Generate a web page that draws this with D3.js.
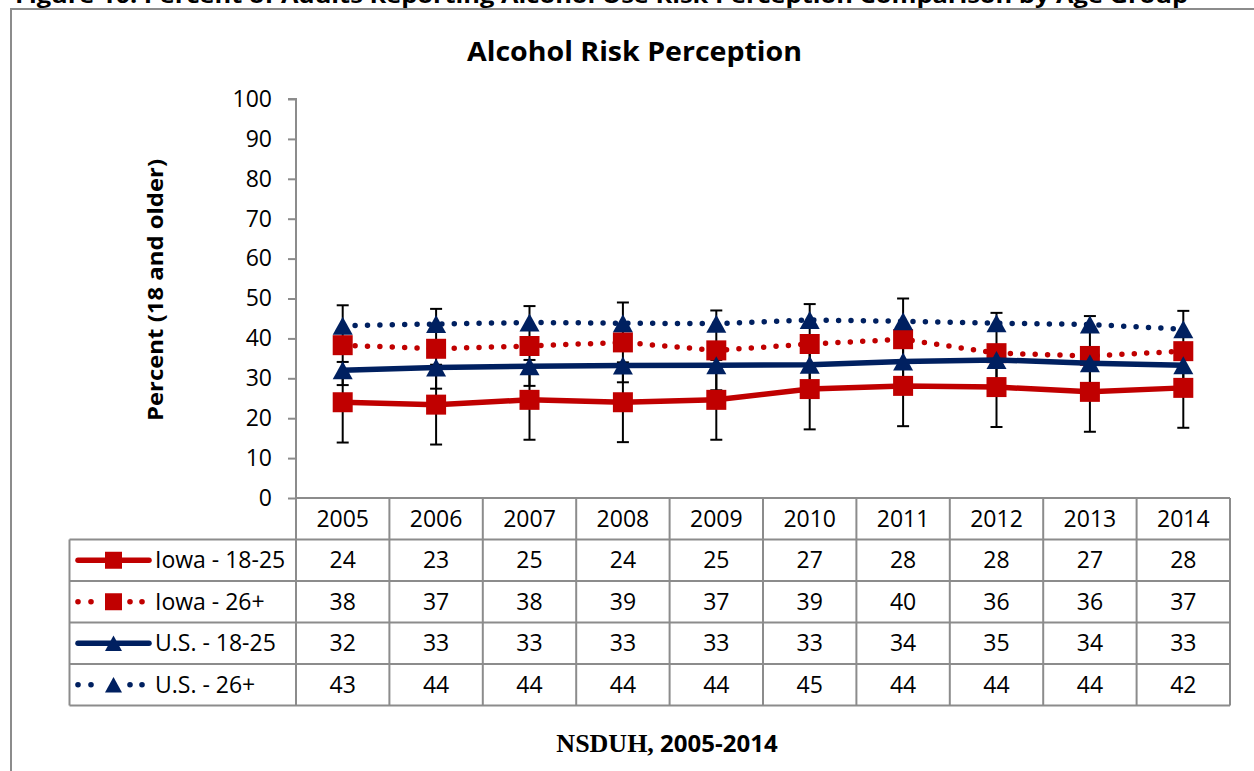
<!DOCTYPE html>
<html>
<head>
<meta charset="utf-8">
<script src="https://cdn.jsdelivr.net/npm/d3@7"></script>
<style>
  html, body { margin: 0; padding: 0; background: #fff; }
  svg { display: block; }
</style>
</head>
<body>
<svg id="chart" width="1254" height="771"></svg>
<script>
// ---------------- data ----------------
const years = ["2005","2006","2007","2008","2009","2010","2011","2012","2013","2014"];
const seriesNames = ["Iowa - 18-25", "Iowa - 26+", "U.S. - 18-25", "U.S. - 26+"];
const iowa1825 = [24.0, 23.4, 24.6, 24.0, 24.6, 27.3, 28.1, 27.8, 26.6, 27.6];
const iowa26   = [38.3, 37.4, 38.1, 39.0, 37.0, 38.6, 39.8, 36.3, 35.6, 36.8];
const us1825   = [32.0, 32.7, 33.0, 33.2, 33.3, 33.4, 34.2, 34.6, 33.8, 33.3];
const us26     = [43.2, 43.6, 44.0, 43.8, 43.7, 44.6, 44.3, 43.8, 43.5, 42.3];
const tableIowa1825 = [24, 23, 25, 24, 25, 27, 28, 28, 27, 28];
const tableIowa26   = [38, 37, 38, 39, 37, 39, 40, 36, 36, 37];
const tableUs1825   = [32, 33, 33, 33, 33, 33, 34, 35, 34, 33];
const tableUs26     = [43, 44, 44, 44, 44, 45, 44, 44, 44, 42];
// error-bar margins (percentage points) for the Iowa series
const errIowa1825 = [10.1, 10.0, 10.0, 10.0, 10.0, 10.1, 10.1, 10.0, 10.0, 10.0];
const errIowa26   = [10.0, 10.0, 10.0, 10.0, 10.0, 10.0, 10.2, 10.1, 10.0, 10.1];
const yTicks = [0, 10, 20, 30, 40, 50, 60, 70, 80, 90, 100];

const chartTitle = "Alcohol Risk Perception";
const yTitle = "Percent (18 and older)";
const caption = "Figure 10: Percent of Adults Reporting Alcohol Use Risk Perception Comparison by Age Group";

// ---------------- layout ----------------
const RED = "#C00000", BLUE = "#002060", GRID = "#8c8c8c";
const X0 = 296, X1 = 1230, YTOP = 99, YBOT = 498;
const legendLeft = 69.5;
const rowEdges = [498, 539.5, 581, 622.5, 664, 705.5];
const FONT = "'Open Sans', 'Noto Sans', sans-serif";
const FS = "23px";

const svg = d3.select("#chart");

const x = d3.scaleBand().domain(years).range([X0, X1]);
const y = d3.scaleLinear().domain([0, 100]).range([YBOT, YTOP]);
const cx = d => x(d) + x.bandwidth() / 2;

// caption, cut off at the top edge as in the source page
svg.append("text")
  .attr("x", 15).attr("y", 3)
  .attr("textLength", 1173).attr("lengthAdjust", "spacingAndGlyphs")
  .style("font-family", FONT).style("font-weight", "bold").style("font-size", "21px")
  .attr("fill", "#000").text(caption);

// outer frame
svg.append("rect")
  .attr("x", 11).attr("y", 9).attr("width", 1400).attr("height", 900)
  .attr("fill", "none").attr("stroke", GRID).attr("stroke-width", 2);

// title
svg.append("text")
  .attr("x", 634.5).attr("y", 61).attr("text-anchor", "middle")
  .attr("textLength", 335).attr("lengthAdjust", "spacingAndGlyphs")
  .style("font-family", FONT).style("font-weight", "bold").style("font-size", "26px")
  .text(chartTitle);

// y-axis title
svg.append("text")
  .attr("transform", "translate(163,290) rotate(-90)")
  .attr("text-anchor", "middle")
  .attr("textLength", 262).attr("lengthAdjust", "spacingAndGlyphs")
  .style("font-family", FONT).style("font-weight", "bold").style("font-size", "21px")
  .text(yTitle);

// y axis
const yAxis = d3.axisLeft(y).tickValues(yTicks).tickSize(8).tickPadding(16).tickFormat(d3.format("d"));
const gy = svg.append("g").attr("transform", `translate(${X0},0)`).call(yAxis);
gy.select(".domain").attr("stroke", GRID).attr("stroke-width", 2).attr("d", `M-8,${YTOP}H0V${YBOT}`);
gy.selectAll(".tick line").attr("stroke", GRID).attr("stroke-width", 2);
gy.selectAll(".tick text").style("font-family", FONT).style("font-size", FS).attr("fill", "#000");

// ---------------- data table ----------------
const tbl = svg.append("g");
tbl.append("line").attr("x1", X0).attr("x2", X1).attr("y1", rowEdges[0]).attr("y2", rowEdges[0]);
rowEdges.slice(1).forEach(yy => {
  tbl.append("line").attr("x1", legendLeft).attr("x2", X1).attr("y1", yy).attr("y2", yy);
});
const colEdges = years.map(d => x(d)).concat([X1]);
colEdges.forEach(xx => {
  tbl.append("line").attr("x1", xx).attr("x2", xx).attr("y1", rowEdges[0]).attr("y2", rowEdges[5]);
});
tbl.append("line").attr("x1", legendLeft).attr("x2", legendLeft).attr("y1", rowEdges[1]).attr("y2", rowEdges[5]);
tbl.selectAll("line").attr("stroke", GRID).attr("stroke-width", 2);

tbl.selectAll("text.yr").data(years).enter().append("text")
  .attr("class", "yr")
  .attr("x", d => cx(d)).attr("y", (rowEdges[0] + rowEdges[1]) / 2 + 8)
  .attr("text-anchor", "middle")
  .style("font-family", FONT).style("font-size", FS)
  .text(d => d);

const tableRows = [tableIowa1825, tableIowa26, tableUs1825, tableUs26];
tableRows.forEach((vals, r) => {
  const ym = (rowEdges[r + 1] + rowEdges[r + 2]) / 2 + 8;
  tbl.selectAll("text.r" + r).data(vals).enter().append("text")
    .attr("class", "r" + r)
    .attr("x", (d, i) => cx(years[i])).attr("y", ym)
    .attr("text-anchor", "middle")
    .style("font-family", FONT).style("font-size", FS)
    .text(d => d);
});

// ---------------- series ----------------
const series = [
  { name: seriesNames[0], vals: iowa1825, color: RED,  dotted: false, marker: "square",   err: errIowa1825 },
  { name: seriesNames[1], vals: iowa26,   color: RED,  dotted: true,  marker: "square",   err: errIowa26 },
  { name: seriesNames[2], vals: us1825,   color: BLUE, dotted: false, marker: "triangle", err: null },
  { name: seriesNames[3], vals: us26,     color: BLUE, dotted: true,  marker: "triangle", err: null }
];

const sqSym = d3.symbol().type(d3.symbolSquare).size(20 * 20);
function triPath(size) {
  const w = size, h = size * 0.9;
  return `M0,${-h / 2}L${w / 2},${h / 2}L${-w / 2},${h / 2}Z`;
}

// error bars (behind lines and markers)
const eb = svg.append("g");
series.filter(s => s.err).forEach(s => {
  s.vals.forEach((v, i) => {
    const xx = cx(years[i]);
    const lo = y(v - s.err[i]), hi = y(v + s.err[i]);
    eb.append("line").attr("x1", xx).attr("x2", xx).attr("y1", lo).attr("y2", hi);
    eb.append("line").attr("x1", xx - 6).attr("x2", xx + 6).attr("y1", lo).attr("y2", lo);
    eb.append("line").attr("x1", xx - 6).attr("x2", xx + 6).attr("y1", hi).attr("y2", hi);
  });
});
eb.selectAll("line").attr("stroke", "#000").attr("stroke-width", 2);

const line = d3.line().x((d, i) => cx(years[i])).y(d => y(d));

series.forEach(s => {
  const g = svg.append("g");
  const p = g.append("path").datum(s.vals).attr("d", line)
    .attr("fill", "none").attr("stroke", s.color)
    .attr("stroke-linejoin", "round").attr("stroke-width", 5.5).attr("stroke-linecap", "round");
  if (s.dotted) p.attr("stroke-dasharray", "0 12.4");
  g.selectAll("path.m").data(s.vals).enter().append("path")
    .attr("class", "m")
    .attr("transform", (d, i) => `translate(${cx(years[i])},${y(d)})`)
    .attr("d", s.marker === "square" ? sqSym() : triPath(20))
    .attr("fill", s.color);
});

// ---------------- legend keys in table ----------------
series.forEach((s, r) => {
  const ym = (rowEdges[r + 1] + rowEdges[r + 2]) / 2;
  const g = svg.append("g");
  if (s.dotted) {
    [78, 91, 130, 142].forEach(xx => {
      g.append("circle").attr("cx", xx).attr("cy", ym).attr("r", 2.8).attr("fill", s.color);
    });
  } else {
    g.append("line").attr("x1", 78).attr("x2", 149).attr("y1", ym).attr("y2", ym)
      .attr("stroke", s.color).attr("stroke-width", 5.5).attr("stroke-linecap", "round");
  }
  g.append("path")
    .attr("transform", `translate(113.5,${ym})`)
    .attr("d", s.marker === "square" ? d3.symbol().type(d3.symbolSquare).size(17 * 17)() : triPath(17))
    .attr("fill", s.color);
  g.append("text").attr("x", 155).attr("y", ym + 8)
    .style("font-family", FONT).style("font-size", FS)
    .text(s.name);
});

// ---------------- source note ----------------
const src = svg.append("text")
  .attr("x", 667).attr("y", 752).attr("text-anchor", "middle")
  .style("font-weight", "bold");
src.append("tspan").style("font-family", "'Liberation Serif', 'Times New Roman', serif").style("font-size", "26px").text("NSDUH,");
src.append("tspan").style("font-family", FONT).style("font-size", "24px").text(" 2005-2014");
</script>
</body>
</html>
